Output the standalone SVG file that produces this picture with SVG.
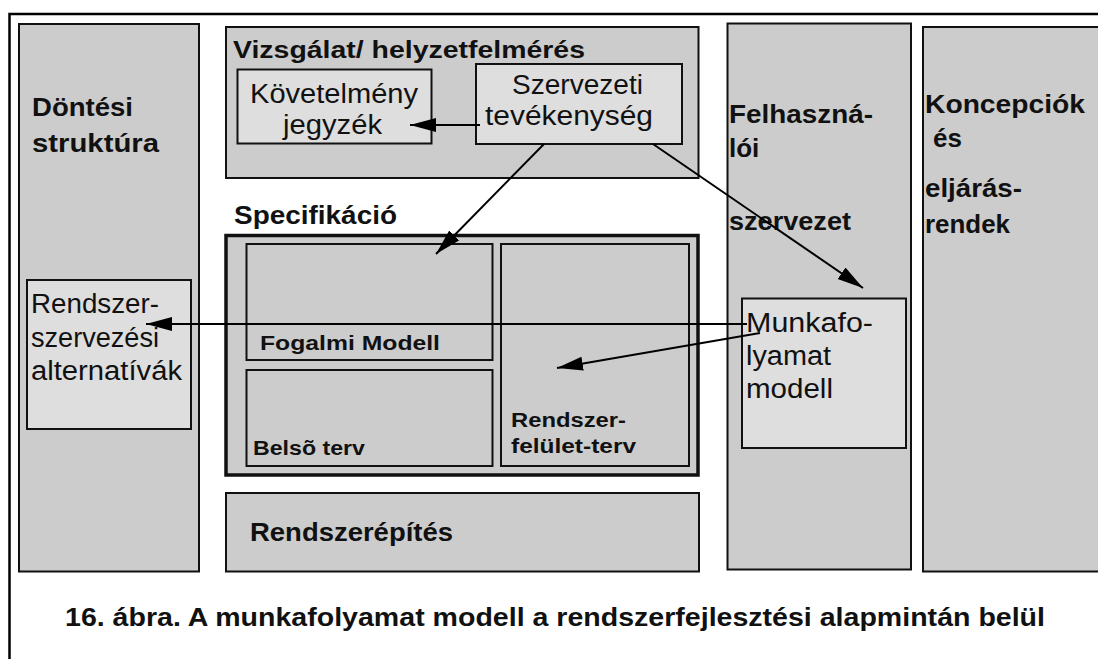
<svg xmlns="http://www.w3.org/2000/svg" width="1098" height="659" viewBox="0 0 1098 659">
<style>
.col{fill:#cccccc;stroke:#111;stroke-width:2}
.lt{fill:#dedede;stroke:#111;stroke-width:2}
.spec{fill:#cccccc;stroke:#111;stroke-width:3.5}
.b{font-family:"Liberation Sans",Arial,sans-serif;font-weight:bold;fill:#111}
.r{font-family:"Liberation Sans",Arial,sans-serif;font-weight:normal;fill:#111;font-size:27px}
.b26{font-size:26px}
.b20{font-size:20px}
.con{stroke:#000;stroke-width:2;fill:none}
</style>
<defs>
<marker id="ah" markerUnits="userSpaceOnUse" markerWidth="27" markerHeight="15" refX="26" refY="7.5" orient="auto">
<path d="M0,0.5 L26,7.5 L0,14.5 Z" fill="#000"/>
</marker>
</defs>
<rect x="0" y="0" width="1098" height="659" fill="#fff"/>
<g id="frame">
<path d="M9.5,659 L9.5,14 L1098,14" fill="none" stroke="#000" stroke-width="2.5"/>
</g>
<g id="dontesi">
<rect class="col" x="19" y="24" width="180" height="547.5"/>
<text class="b b26" x="32" y="116" textLength="101" lengthAdjust="spacingAndGlyphs">Döntési</text>
<text class="b b26" x="32" y="152" textLength="127" lengthAdjust="spacingAndGlyphs">struktúra</text>
</g>
<g id="rendszerszervezesi">
<rect class="lt" x="27" y="280" width="164" height="149"/>
<text class="r" x="31" y="313" textLength="128" lengthAdjust="spacingAndGlyphs">Rendszer-</text>
<text class="r" x="31" y="347" textLength="128" lengthAdjust="spacingAndGlyphs">szervezési</text>
<text class="r" x="31" y="380" textLength="151" lengthAdjust="spacingAndGlyphs">alternatívák</text>
</g>
<g id="vizsgalat">
<rect class="col" x="226" y="27" width="472.5" height="151"/>
<text class="b" font-size="23" x="233" y="58" textLength="352" lengthAdjust="spacingAndGlyphs">Vizsgálat/ helyzetfelmérés</text>
</g>
<g id="kovetelmeny">
<rect class="lt" x="237.5" y="69.5" width="194" height="74"/>
<text class="r" x="250" y="103" textLength="168" lengthAdjust="spacingAndGlyphs">Követelmény</text>
<text class="r" x="283" y="134" textLength="99" lengthAdjust="spacingAndGlyphs">jegyzék</text>
</g>
<g id="szervezeti">
<rect class="lt" x="476" y="64" width="206" height="80"/>
<text class="r" x="512" y="94" textLength="131" lengthAdjust="spacingAndGlyphs">Szervezeti</text>
<text class="r" x="485" y="125" textLength="168" lengthAdjust="spacingAndGlyphs">tevékenység</text>
</g>
<g id="specifikacio">
<text class="b b26" x="234" y="224" textLength="163" lengthAdjust="spacingAndGlyphs">Specifikáció</text>
<rect class="spec" x="226" y="235.5" width="472" height="239.5"/>
</g>
<g id="fogalmi">
<rect class="col" x="246.5" y="244" width="246" height="116"/>
<text class="b b20" x="260" y="350" textLength="180" lengthAdjust="spacingAndGlyphs">Fogalmi Modell</text>
</g>
<g id="belso">
<rect class="col" x="246.5" y="370" width="246" height="96"/>
<text class="b b20" x="253" y="455" textLength="112" lengthAdjust="spacingAndGlyphs">Belsõ terv</text>
</g>
<g id="feluletterv">
<rect class="col" x="501" y="244" width="188" height="222"/>
<text class="b b20" x="511" y="427" textLength="115" lengthAdjust="spacingAndGlyphs">Rendszer-</text>
<text class="b b20" x="511" y="453" textLength="125" lengthAdjust="spacingAndGlyphs">felület-terv</text>
</g>
<g id="rendszerepites">
<rect class="col" x="226" y="493" width="473" height="78.5"/>
<text class="b b26" x="250" y="541" textLength="203" lengthAdjust="spacingAndGlyphs">Rendszerépítés</text>
</g>
<g id="felhasznaloi">
<rect class="col" x="727.5" y="23.5" width="183.5" height="546"/>
<text class="b b26" x="729" y="123" textLength="144" lengthAdjust="spacingAndGlyphs">Felhaszná-</text>
<text class="b b26" x="729" y="157">lói</text>
<text class="b b26" x="729" y="230" textLength="122" lengthAdjust="spacingAndGlyphs">szervezet</text>
</g>
<g id="munkafolyamat">
<rect class="lt" x="742" y="298.5" width="164" height="149.5"/>
<text class="r" x="746" y="332" textLength="127" lengthAdjust="spacingAndGlyphs">Munkafo-</text>
<text class="r" x="746" y="365" textLength="85" lengthAdjust="spacingAndGlyphs">lyamat</text>
<text class="r" x="746" y="398" textLength="87" lengthAdjust="spacingAndGlyphs">modell</text>
</g>
<g id="koncepciok">
<rect class="col" x="923" y="27" width="180" height="544.5"/>
<text class="b b26" x="925" y="113" textLength="160" lengthAdjust="spacingAndGlyphs">Koncepciók</text>
<text class="b b26" x="933" y="147">és</text>
<text class="b b26" x="925" y="197" textLength="97" lengthAdjust="spacingAndGlyphs">eljárás-</text>
<text class="b b26" x="925" y="233" textLength="85" lengthAdjust="spacingAndGlyphs">rendek</text>
</g>
<g id="connectors">
<line class="con" x1="480" y1="125" x2="410" y2="125" marker-end="url(#ah)"/>
<line class="con" x1="544" y1="144" x2="436" y2="254" marker-end="url(#ah)"/>
<line class="con" x1="653" y1="144" x2="863" y2="288" marker-end="url(#ah)"/>
<line class="con" x1="747" y1="324" x2="146" y2="324" marker-end="url(#ah)"/>
<line class="con" x1="760" y1="333" x2="557" y2="368" marker-end="url(#ah)"/>
</g>
<g id="caption">
<text class="b b26" x="65" y="626" textLength="980" lengthAdjust="spacingAndGlyphs">16. ábra. A munkafolyamat modell a rendszerfejlesztési alapmintán belül</text>
</g>
</svg>
